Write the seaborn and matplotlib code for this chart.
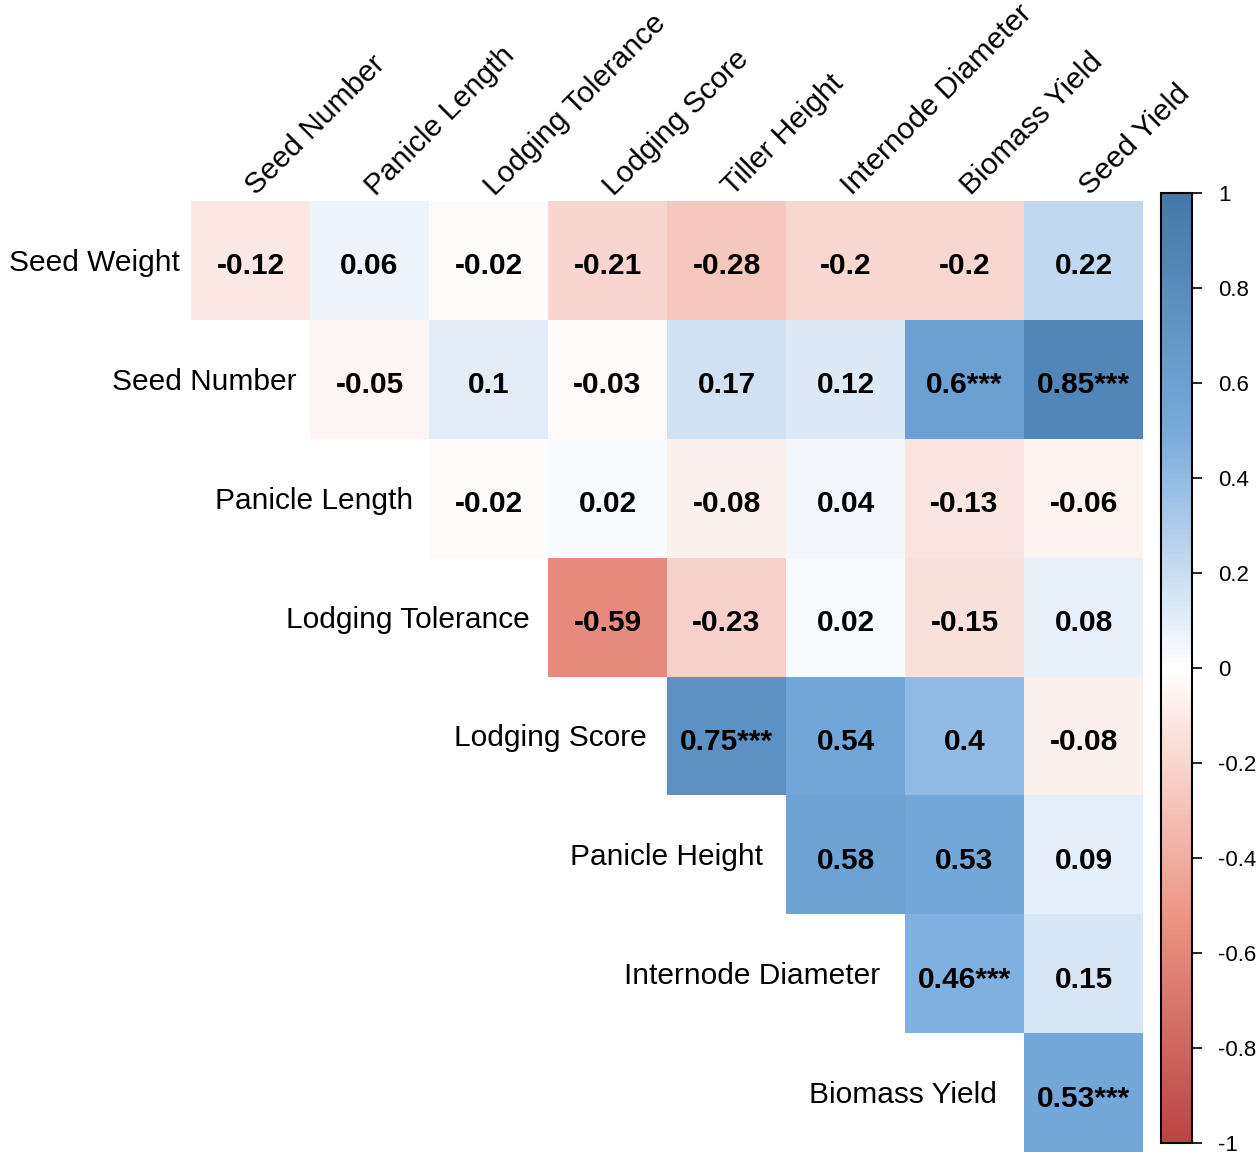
import numpy as np
import pandas as pd
import matplotlib
matplotlib.use("Agg")
import matplotlib.pyplot as plt
from matplotlib.colors import LinearSegmentedColormap
import seaborn as sns

# Trait names
row_labels = ["Seed Weight", "Seed Number", "Panicle Length", "Lodging Tolerance",
              "Lodging Score", "Panicle Height", "Internode Diameter", "Biomass Yield"]
col_labels = ["Seed Number", "Panicle Length", "Lodging Tolerance", "Lodging Score",
              "Tiller Height", "Internode Diameter", "Biomass Yield", "Seed Yield"]

# Upper-triangle correlation coefficients, one list per row (starting at the diagonal)
r_seed_weight = [-0.12, 0.06, -0.02, -0.21, -0.28, -0.20, -0.20, 0.22]
r_seed_number = [-0.05, 0.10, -0.03, 0.17, 0.12, 0.60, 0.85]
r_panicle_length = [-0.02, 0.02, -0.08, 0.04, -0.13, -0.06]
r_lodging_tolerance = [-0.59, -0.23, 0.02, -0.15, 0.08]
r_lodging_score = [0.75, 0.54, 0.40, -0.08]
r_panicle_height = [0.58, 0.53, 0.09]
r_internode_diameter = [0.46, 0.15]
r_biomass_yield = [0.53]

# Significance stars, same layout as the coefficients
s_seed_weight = ["", "", "", "", "", "", "", ""]
s_seed_number = ["", "", "", "", "", "***", "***"]
s_panicle_length = ["", "", "", "", "", ""]
s_lodging_tolerance = ["", "", "", "", ""]
s_lodging_score = ["***", "", "", ""]
s_panicle_height = ["", "", ""]
s_internode_diameter = ["***", ""]
s_biomass_yield = ["***"]

rows_r = [r_seed_weight, r_seed_number, r_panicle_length, r_lodging_tolerance,
          r_lodging_score, r_panicle_height, r_internode_diameter, r_biomass_yield]
rows_s = [s_seed_weight, s_seed_number, s_panicle_length, s_lodging_tolerance,
          s_lodging_score, s_panicle_height, s_internode_diameter, s_biomass_yield]

n = len(row_labels)
mat = np.full((n, n), np.nan)
stars = [["" for _ in range(n)] for _ in range(n)]
for i, (vals, sig) in enumerate(zip(rows_r, rows_s)):
    for k, (v, s) in enumerate(zip(vals, sig)):
        mat[i, i + k] = v
        stars[i][i + k] = s

df = pd.DataFrame(mat, index=row_labels, columns=col_labels)
mask = np.isnan(mat)

sns.set_theme(style="white")
plt.rcParams["font.family"] = ["Liberation Sans", "DejaVu Sans"]
plt.rcParams["axes.unicode_minus"] = False

cmap = LinearSegmentedColormap.from_list(
    "corr", ["#BB4444", "#EE9988", "#FFFFFF", "#77AADD", "#4477AA"], N=200)

fig = plt.figure(figsize=(12.6, 11.59), dpi=100)
ax = fig.add_axes([0.1516, 0.0060, 0.7556, 0.8205])
cax = fig.add_axes([0.9214, 0.0138, 0.0246, 0.8197])

sns.heatmap(df, mask=mask, cmap=cmap, vmin=-1, vmax=1, ax=ax, cbar_ax=cax,
            linewidths=0, square=False, xticklabels=False, yticklabels=False)
ax.set_xlabel("")
ax.set_ylabel("")
ax.tick_params(left=False, bottom=False)

# Cell values
for i in range(n):
    for j in range(i, n):
        v = mat[i, j]
        txt = f"{v:.2f}".rstrip("0").rstrip(".") if v != 0 else "0"
        txt = txt + stars[i][j]
        ax.text(j + 0.5, i + 0.55, txt, ha="center", va="center",
                fontsize=21.5, fontweight="bold", color="black")

# Row labels beside the diagonal
for i, lab in enumerate(row_labels):
    ax.text(i - (0.09 + 0.02 * i), i + 0.52, lab, ha="right", va="center",
            fontsize=21.5, color="black", clip_on=False)

# Rotated column labels above the grid
for j, lab in enumerate(col_labels):
    ax.text(j + 0.55, -0.04, lab, ha="left", va="baseline", rotation=45,
            rotation_mode="anchor", fontsize=21.5, color="black", clip_on=False)

# Colour bar styling
cb = ax.collections[0].colorbar
ticks = [1, 0.8, 0.6, 0.4, 0.2, 0, -0.2, -0.4, -0.6, -0.8, -1]
cb.set_ticks(ticks)
cb.set_ticklabels(["1", "0.8", "0.6", "0.4", "0.2", "0", "-0.2", "-0.4",
                   "-0.6", "-0.8", "-1"], fontsize=16)
cax.tick_params(length=7, width=1.2, direction="out", right=True,
                pad=12, colors="black")
for t in cax.get_yticklabels():
    t.set_fontsize(16)
cb.outline.set_edgecolor("black")
cb.outline.set_linewidth(1.5)
cb.outline.set_visible(True)

fig.savefig("out.png", dpi=100)
